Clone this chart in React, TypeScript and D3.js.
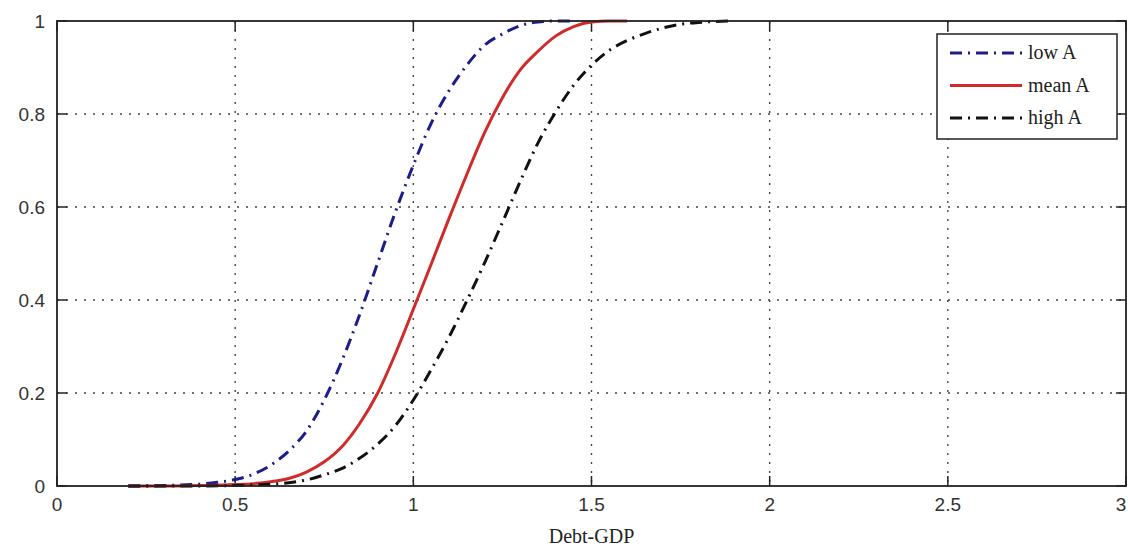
import React from 'react';
import * as d3 from 'd3';

// debt-to-GDP grid shared by the three CDFs
const lowX = [0.2, 0.3, 0.4, 0.45, 0.5, 0.55, 0.6, 0.65, 0.7, 0.75, 0.8, 0.85, 0.9, 0.95, 1.0, 1.05, 1.1, 1.15, 1.2, 1.25, 1.3, 1.35, 1.4, 1.45];
const lowY = [0, 0.001, 0.004, 0.008, 0.014, 0.025, 0.045, 0.075, 0.118, 0.185, 0.27, 0.37, 0.48, 0.59, 0.69, 0.78, 0.85, 0.905, 0.948, 0.972, 0.99, 0.998, 1, 1];

const meanX = [0.2, 0.3, 0.4, 0.5, 0.55, 0.6, 0.65, 0.7, 0.75, 0.8, 0.85, 0.9, 0.95, 1.0, 1.05, 1.1, 1.15, 1.2, 1.25, 1.3, 1.35, 1.4, 1.45, 1.5, 1.55, 1.6];
const meanY = [0, 0, 0.001, 0.003, 0.005, 0.009, 0.016, 0.03, 0.052, 0.085, 0.135, 0.2, 0.285, 0.38, 0.477, 0.575, 0.67, 0.76, 0.835, 0.895, 0.935, 0.968, 0.988, 0.998, 1, 1];

const highX = [0.2, 0.3, 0.4, 0.5, 0.6, 0.65, 0.7, 0.75, 0.8, 0.85, 0.9, 0.95, 1.0, 1.05, 1.1, 1.15, 1.2, 1.25, 1.3, 1.35, 1.4, 1.45, 1.5, 1.55, 1.6, 1.65, 1.7, 1.75, 1.8, 1.85, 1.9];
const highY = [0, 0, 0, 0.001, 0.004, 0.007, 0.013, 0.024, 0.038, 0.06, 0.09, 0.13, 0.185, 0.25, 0.32, 0.398, 0.48, 0.567, 0.655, 0.738, 0.805, 0.862, 0.905, 0.937, 0.958, 0.973, 0.985, 0.993, 0.997, 0.999, 1];

const xTicks = [0, 0.5, 1, 1.5, 2, 2.5, 3];
const yTicks = [0, 0.2, 0.4, 0.6, 0.8, 1];
const xTickLabels = ['0', '0.5', '1', '1.5', '2', '2.5', '3'];
const yTickLabels = ['0', '0.2', '0.4', '0.6', '0.8', '1'];

const series = [
  { name: 'low A', xs: lowX, ys: lowY, color: '#1c1c8a', dash: '12,6,2,6' },
  { name: 'mean A', xs: meanX, ys: meanY, color: '#d02a2a', dash: null },
  { name: 'high A', xs: highX, ys: highY, color: '#111111', dash: '12,6,2,6' },
];

const W = 1128;
const H = 547;
const left = 57;
const right = 1126;
const top = 21;
const bottom = 486;

export default function App() {
  const x = d3.scaleLinear().domain([0, 3]).range([left, right]);
  const y = d3.scaleLinear().domain([0, 1]).range([bottom, top]);

  const line = d3.line<[number, number]>()
    .x(d => x(d[0]))
    .y(d => y(d[1]))
    .curve(d3.curveMonotoneX);

  const tickFont = '"Liberation Sans", Arial, sans-serif';
  const serif = '"Liberation Serif", "Times New Roman", serif';

  return (
    <svg width={W} height={H} style={{ position: 'absolute', left: 0, top: 0, background: '#fff' }}>
      <rect x={0} y={0} width={W} height={H} fill="#fff" />

      {/* grid */}
      {xTicks.slice(1, -1).map(t => (
        <line key={'gx' + t} x1={x(t)} x2={x(t)} y1={top} y2={bottom}
          stroke="#444" strokeWidth={1.4} strokeDasharray="2,7" />
      ))}
      {yTicks.slice(1, -1).map(t => (
        <line key={'gy' + t} x1={left} x2={right} y1={y(t)} y2={y(t)}
          stroke="#444" strokeWidth={1.4} strokeDasharray="2,7" />
      ))}

      {/* inward ticks */}
      {xTicks.map(t => (
        <g key={'tx' + t}>
          <line x1={x(t)} x2={x(t)} y1={bottom} y2={bottom - 10} stroke="#222" strokeWidth={1.5} />
          <line x1={x(t)} x2={x(t)} y1={top} y2={top + 10} stroke="#222" strokeWidth={1.5} />
        </g>
      ))}
      {yTicks.map(t => (
        <g key={'ty' + t}>
          <line x1={left} x2={left + 10} y1={y(t)} y2={y(t)} stroke="#222" strokeWidth={1.5} />
          <line x1={right} x2={right - 10} y1={y(t)} y2={y(t)} stroke="#222" strokeWidth={1.5} />
        </g>
      ))}

      {/* curves */}
      {series.map(s => (
        <path key={s.name}
          d={line(s.xs.map((v, i) => [v, s.ys[i]] as [number, number])) || ''}
          fill="none" stroke={s.color} strokeWidth={3}
          strokeDasharray={s.dash || undefined} />
      ))}

      {/* frame */}
      <rect x={left} y={top} width={right - left} height={bottom - top}
        fill="none" stroke="#222" strokeWidth={1.8} />

      {/* tick labels; the last one is nudged in so it stays inside the page */}
      {xTicks.map((t, i) => (
        <text key={'lx' + t} x={Math.min(x(t), W - 7)} y={511} textAnchor="middle"
          fontFamily={tickFont} fontSize={19} fill="#333">{xTickLabels[i]}</text>
      ))}
      {yTicks.map((t, i) => (
        <text key={'ly' + t} x={45} y={y(t) + 7} textAnchor="end"
          fontFamily={tickFont} fontSize={19} fill="#333">{yTickLabels[i]}</text>
      ))}

      <text x={x(1.5)} y={543} textAnchor="middle" fontFamily={serif} fontSize={20} fill="#222">Debt-GDP</text>

      {/* legend */}
      <g>
        <rect x={937} y={34} width={180} height={105} fill="#fff" stroke="#222" strokeWidth={1.5} />
        {series.map((s, i) => (
          <g key={'lg' + s.name} transform={`translate(0, ${53 + i * 32.5})`}>
            <line x1={950} x2={1022} y1={0} y2={0} stroke={s.color} strokeWidth={3}
              strokeDasharray={s.dash || undefined} />
            <text x={1028} y={6} fontFamily={serif} fontSize={20} fill="#222">{s.name}</text>
          </g>
        ))}
      </g>
    </svg>
  );
}
